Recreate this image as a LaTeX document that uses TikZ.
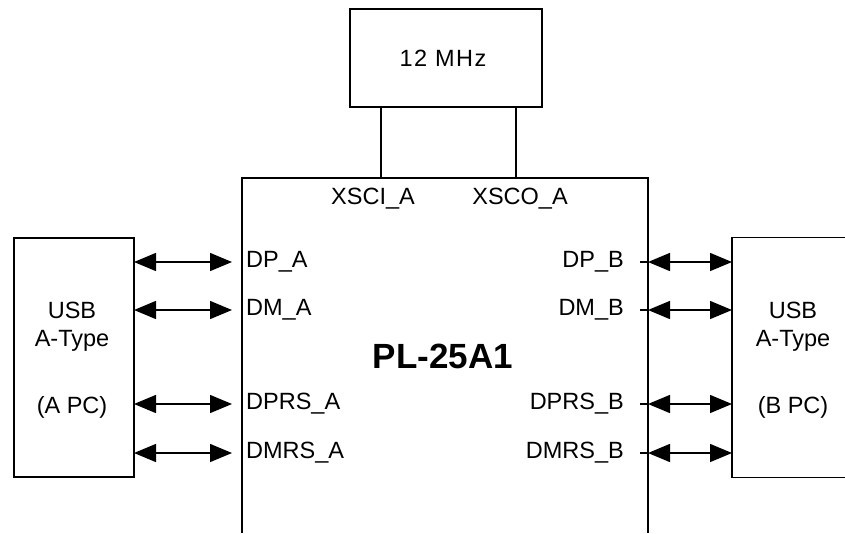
\documentclass[tikz,border=0pt]{standalone}
\usepackage{fontspec}
\setmainfont{Liberation Sans}
\usetikzlibrary{arrows.meta}
\begin{document}
\begin{tikzpicture}[x=1pt,y=-1pt,
  lbl/.style={font=\fontsize{23.5}{28}\selectfont, inner sep=0pt},
  boxline/.style={line width=1.3pt},
  sig/.style={line width=1.5pt, {Triangle[length=22pt,width=18pt]}-{Triangle[length=22pt,width=18pt]}},
  wire/.style={line width=1.5pt}]
\useasboundingbox (0,0) rectangle (845,533);
% oscillator
\node[draw, boxline, minimum width=192pt, minimum height=98pt, inner sep=0pt] (osc) at (446,58) {};
\node[lbl] (osctxt) at (443,58) {\addfontfeature{LetterSpace=6}12 MHz};
% main chip (open at bottom)
\node[minimum width=406pt, minimum height=355pt, inner sep=0pt] (main) at (445,355.5) {};
\draw[line width=1.6pt] (main.south west) -- (main.north west) -- (main.north east) -- (main.south east);
\node[font=\bfseries\fontsize{35}{40}\selectfont, inner sep=0pt] (chip) at (443,356) {PL-25A1};
% crystal pins
\coordinate (xi) at (381,107);
\coordinate (xo) at (516,107);
\draw[wire] (xi) -- (xi |- main.north);
\draw[wire] (xo) -- (xo |- main.north);
\node[lbl] (xsci) at (373,199) {XSCI\_A};
\node[lbl] (xsco) at (520,199) {XSCO\_A};
% left USB box
\node[draw, boxline, minimum width=120pt, minimum height=239pt, inner sep=0pt] (usba) at (74,357.5) {};
\node[lbl] (usba1) at (72,310) {USB};
\node[lbl] (usba2) at (72,341) {A-Type};
\node[lbl] (usba3) at (72,407) {(A PC)};
% right USB box (open on the right)
\node[minimum width=113pt, minimum height=239pt, inner sep=0pt, anchor=west] (usbb) at (732,357.5) {};
\draw[boxline] (usbb.north east) -- (usbb.north west) -- (usbb.south west) -- (usbb.south east);
\node[lbl] (usbb1) at (793,310) {USB};
\node[lbl] (usbb2) at (793,341) {A-Type};
\node[lbl] (usbb3) at (793,407) {(B PC)};
% left signals
\foreach \y/\n/\t in {262/dpa/DP\_A, 310/dma/DM\_A, 404/dpra/DPRS\_A, 453/dmra/DMRS\_A}{
  \coordinate (\n s) at (134,\y);
  \coordinate (\n e) at (232,\y);
  \draw[sig] (\n s) -- (\n e);
  \node[lbl, anchor=west] (\n) at (246,\y) {\t};
}
% right signals
\foreach \y/\n/\t in {262/dpb/DP\_B, 310/dmb/DM\_B, 404/dprb/DPRS\_B, 453/dmrb/DMRS\_B}{
  \coordinate (\n s) at (648,\y);
  \coordinate (\n t) at (640,\y);
  \coordinate (\n e) at (732,\y);
  \draw[wire] (\n t) -- (\n s);
  \draw[sig] (\n s) -- (\n e);
  \node[lbl, anchor=east] (\n) at (624,\y) {\t};
}
\end{tikzpicture}
\end{document}
